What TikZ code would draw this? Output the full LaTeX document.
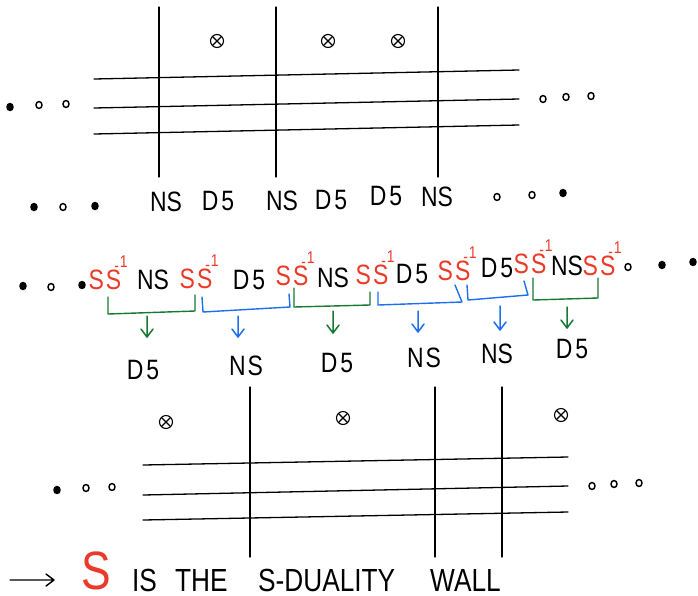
\documentclass[tikz,border=0pt]{standalone}
\usepackage{fontspec}
\setmainfont{Liberation Sans}
\newfontfamily\hand[FakeStretch=0.82]{Liberation Sans}
\usetikzlibrary{arrows.meta,shapes.geometric}
\definecolor{hred}{RGB}{234,58,42}
\definecolor{hgreen}{RGB}{22,122,52}
\definecolor{hblue}{RGB}{28,112,240}
\newcommand\SSinv{S\kern2pt S\rlap{\smash{\kern-7pt\raisebox{18pt}{\fontsize{17}{17}\selectfont -}\kern1pt\raisebox{22pt}{\fontsize{17}{17}\selectfont 1}}}}
\begin{document}
\begin{tikzpicture}[x=1pt,y=-1pt,line cap=round,line join=round,
  wire/.style={line width=1.3pt},
  lbl/.style={font=\hand\fontsize{28}{28}\selectfont, inner sep=0pt, anchor=center},
  rs/.style={lbl, text=hred},
  xo/.style={draw, circle, inner sep=0pt, minimum size=13pt, line width=1.1pt,
    path picture={\draw[line width=1.1pt] (path picture bounding box.north west) -- (path picture bounding box.south east)
      (path picture bounding box.north east) -- (path picture bounding box.south west);}},
  dotc/.style={draw, ellipse, inner sep=0pt, minimum width=6pt, minimum height=7pt, line width=1.5pt},
  dotf/.style={dotc, fill},
  brk/.style={line width=1.4pt},
  darr/.style={line width=1.5pt},
]
\useasboundingbox (0,0) rectangle (698,595);

% ---------- top brane diagram ----------
\draw[wire] (94,79) -- (519,70);
\draw[wire] (94,108) -- (519,99);
\draw[wire] (94,134) -- (519,125);
\draw[wire] (159,7) -- (159,177);
\draw[wire] (276,7) -- (276,177);
\draw[wire] (438,7) -- (438,177);
\node[xo] (tx1) at (217,41) {};
\node[xo] (tx2) at (328,41) {};
\node[xo] (tx3) at (398,41) {};
\node[dotf] (tdl1) at (10,107) {};
\node[dotc] (tdl2) at (39,105) {};
\node[dotc] (tdl3) at (66,104) {};
\node[dotc] (tdr1) at (543,99) {};
\node[dotc] (tdr2) at (566,97) {};
\node[dotc] (tdr3) at (591,96) {};

% top labels
\node[dotf] (ld1) at (34,207) {};
\node[dotc] (ld2) at (63,207) {};
\node[dotf] (ld3) at (95,206) {};
\node[lbl] (t1) at (166,202) {NS};
\node[lbl] (t2) at (218,201) {D\kern3pt5};
\node[lbl] (t3) at (282,201) {NS};
\node[lbl] (t4) at (331,200) {D\kern3pt5};
\node[lbl] (t5) at (386,196) {D\kern3pt5};
\node[lbl] (t6) at (437,197) {NS};
\node[dotc] (rd1) at (497,197) {};
\node[dotc] (rd2) at (532,195) {};
\node[dotf] (rd3) at (563,193) {};

% ---------- middle row ----------
\node[dotf] (md1) at (23,286) {};
\node[dotc] (md2) at (51,287) {};
\node[dotf] (md3) at (82,285) {};
\node[rs] (r1) at (105,280) {\SSinv};
\node[lbl] (m1) at (153,280) {NS};
\node[rs] (r2) at (196,279) {\SSinv};
\node[lbl] (m2) at (249,280) {D\kern3pt5};
\node[rs] (r3) at (292,276) {\SSinv};
\node[lbl] (m3) at (333,278) {NS};
\node[rs] (r4) at (372,275) {\SSinv};
\node[lbl] (m4) at (412,274) {D\kern3pt5};
\node[rs] (r5) at (454,271) {\SSinv};
\node[lbl] (m5) at (497,268) {D\kern3pt5};
\node[rs] (r6) at (530,264) {\SSinv};
\node[lbl] (m6) at (567,266) {NS};
\node[rs] (r7) at (599,266) {\SSinv};
\node[dotc] (me1) at (628,267) {};
\node[dotf] (me2) at (662,265) {};
\node[dotf] (me3) at (693,262) {};

% brackets
\draw[brk, hgreen] (108,297) -- (108,314) -- (195,311) -- (195,295);
\draw[brk, hblue]  (202,297) -- (203,312) -- (290,307) -- (289,294);
\draw[brk, hgreen] (294,288) -- (294,307) -- (370,305) -- (370,292);
\draw[brk, hblue]  (378,292) -- (378,305) -- (462,302) -- (455,285);
\draw[brk, hblue]  (467,285) -- (468,300) -- (528,295) -- (524,281);
\draw[brk, hgreen] (533,278) -- (533,300) -- (598,298) -- (598,278);

% bottom labels
\node[lbl] (b1) at (143,370) {D\kern3pt5};
\node[lbl] (b2) at (246,366) {N\kern2pt S};
\node[lbl] (b3) at (337,363) {D\kern3pt5};
\node[lbl] (b4) at (424,358) {N\kern2pt S};
\node[lbl] (b5) at (497,354) {NS};
\node[lbl] (b6) at (572,349) {D\kern3pt5};

% arrows from brackets down to labels (open V heads)
\coordinate (a1s) at (147,316); \coordinate (a1e) at (147,337);
\coordinate (a2s) at (238,316); \coordinate (a2e) at (238,337);
\coordinate (a3s) at (333,311); \coordinate (a3e) at (333,333);
\coordinate (a4s) at (418,311); \coordinate (a4e) at (418,332);
\coordinate (a5s) at (500,306); \coordinate (a5e) at (500,330);
\coordinate (a6s) at (567,307); \coordinate (a6e) at (567,328);
\draw[darr, hgreen] (a1s) -- (a1e) ++(-6,-8) -- (a1e) -- ++(6,-8);
\draw[darr, hblue]  (a2s) -- (a2e) ++(-6,-8) -- (a2e) -- ++(6,-8);
\draw[darr, hgreen] (a3s) -- (a3e) ++(-6,-8) -- (a3e) -- ++(6,-8);
\draw[darr, hblue]  (a4s) -- (a4e) ++(-6,-8) -- (a4e) -- ++(6,-8);
\draw[darr, hblue]  (a5s) -- (a5e) ++(-6,-8) -- (a5e) -- ++(6,-8);
\draw[darr, hgreen] (a6s) -- (a6e) ++(-6,-8) -- (a6e) -- ++(6,-8);

% ---------- bottom brane diagram ----------
\draw[wire] (143,465) -- (568,457);
\draw[wire] (143,495) -- (568,486);
\draw[wire] (143,520) -- (568,512);
\draw[wire] (250,387) -- (250,557);
\draw[wire] (435,387) -- (435,557);
\draw[wire] (502,387) -- (502,557);
\node[xo] (bx1) at (166,422) {};
\node[xo] (bx2) at (343,418) {};
\node[xo] (bx3) at (561,415) {};
\node[dotf] (bdl1) at (57,490) {};
\node[dotc] (bdl2) at (86,488) {};
\node[dotc] (bdl3) at (112,487) {};
\node[dotc] (bdr1) at (592,486) {};
\node[dotc] (bdr2) at (614,484) {};
\node[dotc] (bdr3) at (639,483) {};

% ---------- legend ----------
\coordinate (la) at (10,580);
\coordinate (lb) at (54,580);
\draw[line width=1.4pt] (la) -- (lb) ++(-8,-6) -- (lb) -- ++(-8,6);
\node[inner sep=0pt, text=hred, font=\hand\fontsize{54}{54}\selectfont] (bigS) at (96,571) {S};
\node[lbl, anchor=west, font=\hand\fontsize{32}{32}\selectfont] (leg) at (132,580)
  {\makebox[43pt][l]{IS}\makebox[83pt][l]{THE}\makebox[172pt][l]{S-DUALITY}WALL};
\end{tikzpicture}
\end{document}
